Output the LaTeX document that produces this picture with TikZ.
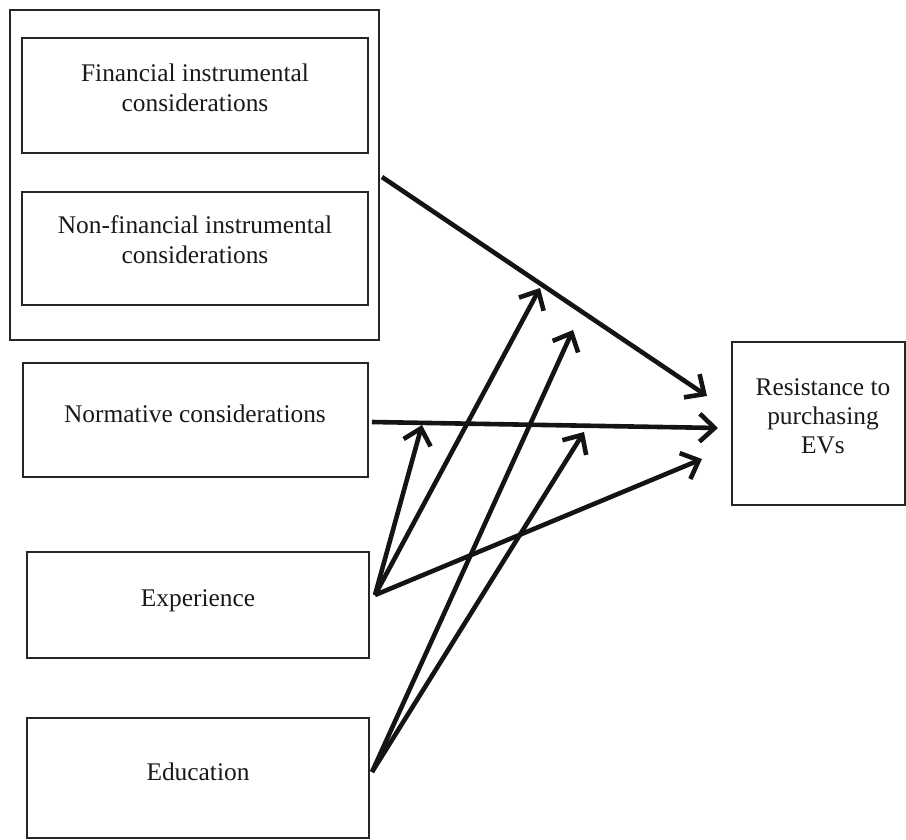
\documentclass[tikz,border=0pt]{standalone}
\usepackage{fontspec}
\setmainfont{Liberation Serif}
\usetikzlibrary{arrows.meta}
\begin{document}
\begin{tikzpicture}[x=1pt,y=-1pt,
  box/.style={draw=black!85, line width=1.8pt, inner sep=0pt, rectangle},
  lbl/.style={font=\fontsize{25.4}{30}\selectfont, align=center, text=black!90, inner sep=0pt, anchor=base},
  conn/.style={line width=4.6pt, draw=black!92, -{Straight Barb[length=15pt,width=28pt,line width=4.6pt]}}]
\useasboundingbox (0,0) rectangle (906,839);
% boxes
\node[box, minimum width=369pt, minimum height=330pt] (outer) at (194.5,175) {};
\node[box, minimum width=346pt, minimum height=115pt] (fin) at (195,95.5) {};
\node[box, minimum width=346pt, minimum height=113pt] (nonfin) at (195,248.5) {};
\node[box, minimum width=345pt, minimum height=114pt] (norm) at (195.5,420) {};
\node[box, minimum width=342pt, minimum height=106pt] (exp) at (198,605) {};
\node[box, minimum width=342pt, minimum height=120pt] (edu) at (198,778) {};
\node[box, minimum width=173pt, minimum height=163pt] (res) at (818.5,423.5) {};
% labels (multi-line: base = last line)
\node[lbl] (finl) at (195,111) {Financial instrumental\\considerations};
\node[lbl] (nonfinl) at (195,263) {Non-financial instrumental\\considerations};
\node[lbl] (norml) at (195,422) {Normative considerations};
\node[lbl] (expl) at (198,606) {Experience};
\node[lbl] (edul) at (198,780) {Education};
\node[lbl, font=\fontsize{25.4}{29}\selectfont] (resl) at (823,453) {Resistance to\\purchasing\\EVs};
% connector points
\coordinate (o1) at (382,177);
\coordinate (t1) at (707,396);
\coordinate (n0) at (372,422);
\coordinate (t2) at (718,428);
\coordinate (ex) at (375,595);
\coordinate (ed) at (372,772);
\coordinate (tn) at (422,425);
\coordinate (tl) at (540,288);
\coordinate (t3) at (702,459);
\coordinate (tl2) at (573,330);
\coordinate (tn2) at (584,432);
% connectors
\draw[conn] (o1) -- (t1);
\draw[conn] (n0) -- (t2);
\draw[conn] (ex) -- (tn);
\draw[conn] (ex) -- (tl);
\draw[conn] (ex) -- (t3);
\draw[conn] (ed) -- (tl2);
\draw[conn] (ed) -- (tn2);
\end{tikzpicture}
\end{document}
